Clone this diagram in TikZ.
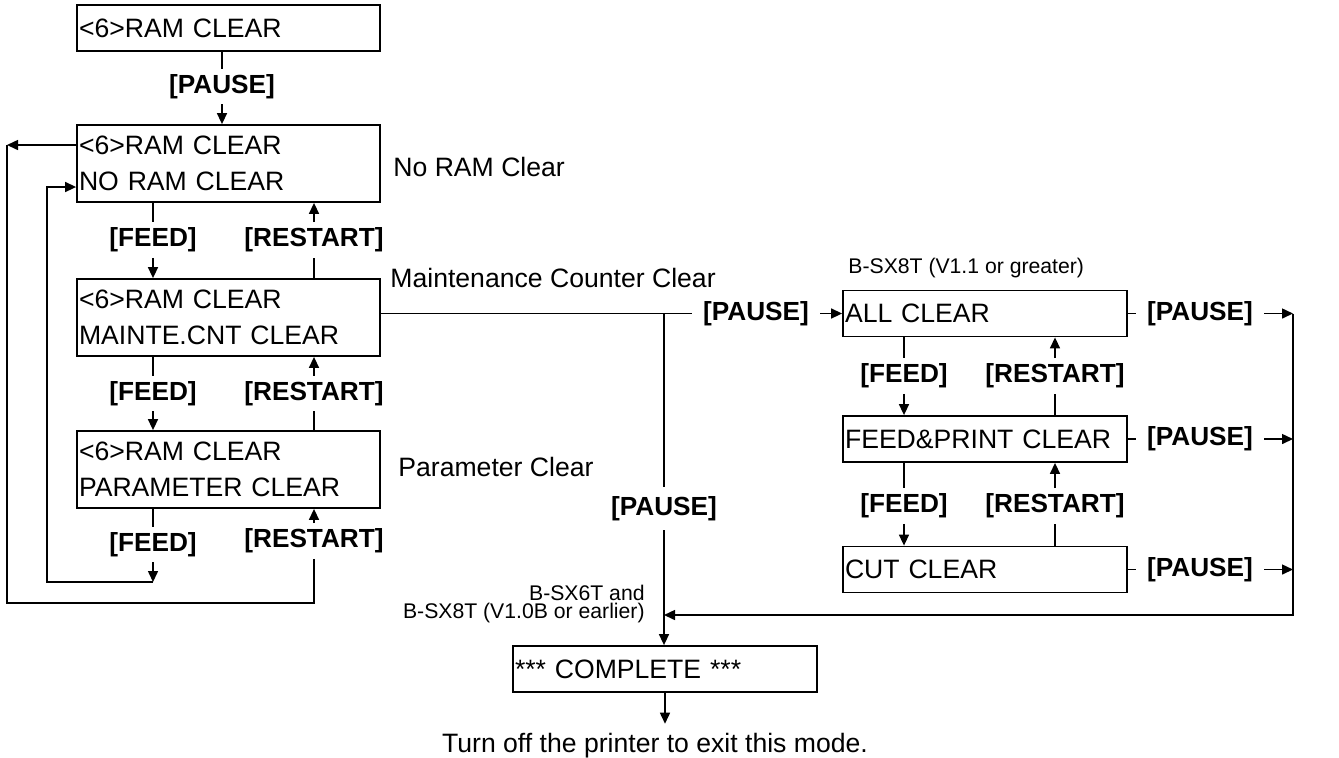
\documentclass[tikz,border=0pt]{standalone}
\usepackage{fontspec}
\setmainfont{Liberation Sans}
\usetikzlibrary{arrows.meta, positioning, calc}
\tikzset{
  scr/.style   = {draw, line width=0.9pt, align=left, inner xsep=1pt, inner ysep=0pt,
                  text width=149.5pt, font=\fontsize{13.3}{18}\selectfont},
  one/.style   = {scr, minimum height=23pt},
  two/.style   = {scr, minimum height=38.5pt},
  key/.style   = {font=\fontsize{13.1}{15}\selectfont\bfseries, inner xsep=5.5pt,
                  inner ysep=0pt, minimum height=17.5pt},
  wire/.style  = {line width=0.75pt},
  flow/.style  = {wire, -{Triangle[length=5.5pt, width=5pt]}},
  note/.style  = {font=\fontsize{13.3}{16}\selectfont, anchor=west, inner sep=0pt},
  small/.style = {font=\fontsize{10.6}{9.3}\selectfont, inner sep=0pt},
}

\begin{document}
\begin{tikzpicture}[x=0.5pt, y=-0.5pt]
    \useasboundingbox (0,0) rectangle (1339,757);

    % RAM CLEAR menu
    \node[one] (ramclr) at (228.5,28)    {<6>RAM CLEAR};
    \node[two] (noclr)  at (228.5,163.5) {<6>RAM CLEAR\\NO RAM CLEAR};
    \node[two] (mntclr) at (228.5,317.5) {<6>RAM CLEAR\\MAINTE.CNT CLEAR};
    \node[two] (parclr) at (228.5,469.5) {<6>RAM CLEAR\\PARAMETER CLEAR};

    \node[key] (p0) at (222,86.5)  {[PAUSE]};
    \node[key] (f1) at (153,240)   {[FEED]};
    \node[key] (r1) at (314,240)   {[RESTART]};
    \node[key] (f2) at (153,393.5) {[FEED]};
    \node[key] (r2) at (314,393.5) {[RESTART]};
    \node[key] (f3) at (153,544.5) {[FEED]};
    \node[key] (r3) at (314,541)   {[RESTART]};

    \draw[wire] (ramclr.south -| p0) -- (p0.north);
    \draw[flow] (p0.south) -- (noclr.north -| p0);
    \draw[wire] (noclr.south -| f1) -- (f1.north);
    \draw[flow] (f1.south) -- (mntclr.north -| f1);
    \draw[wire] (mntclr.north -| r1) -- (r1.south);
    \draw[flow] (r1.north) -- (noclr.south -| r1);
    \draw[wire] (mntclr.south -| f2) -- (f2.north);
    \draw[flow] (f2.south) -- (parclr.north -| f2);
    \draw[wire] (parclr.north -| r2) -- (r2.south);
    \draw[flow] (r2.north) -- (mntclr.south -| r2);
    \draw[wire] (parclr.south -| f3) -- (f3.north);
    \draw[flow] (r3.north) -- (parclr.south -| r3);

    % wrap-around loops
    \coordinate (lpin)  at (47,582);
    \coordinate (lpout) at (7,603);
    \coordinate (noin)  at ([yshift=-11.75pt]noclr.west);
    \coordinate (noout) at ([yshift=9.25pt]noclr.west);
    \draw[flow] (f3.south) -- (f3.south |- lpin);
    \draw[flow] (f3.south |- lpin) -- (lpin) |- (noin);
    \draw[wire] (r3.south) |- (lpout) -- (lpout |- noout);
    \draw[flow] (noout) -- (noout -| lpout);

    \node[note] (nolbl)  at (393,167) {No RAM Clear};
    \node[note] (mntlbl) at (390,278) {Maintenance Counter Clear};
    \node[note] (parlbl) at (398,467) {Parameter Clear};

    % B-SX8T sub menu
    \node[one, text width=140pt] (allclr) at (985,313.5) {ALL CLEAR};
    \node[one, text width=140pt] (fpclr)  at (985,439)   {FEED\&PRINT CLEAR};
    \node[one, text width=140pt] (cutclr) at (985,569.5) {CUT CLEAR};
    \node[small, anchor=west] (sx8) at (848,268) {B-SX8T (V1.1 or greater)};

    \node[key] (fa) at (904,376)  {[FEED]};
    \node[key] (ra) at (1055,376) {[RESTART]};
    \node[key] (fb) at (904,506)  {[FEED]};
    \node[key] (rb) at (1055,506) {[RESTART]};

    \draw[wire] (allclr.south -| fa) -- (fa.north);
    \draw[flow] (fa.south) -- (fpclr.north -| fa);
    \draw[wire] (fpclr.north -| ra) -- (ra.south);
    \draw[flow] (ra.north) -- (allclr.south -| ra);
    \draw[wire] (fpclr.south -| fb) -- (fb.north);
    \draw[flow] (fb.south) -- (cutclr.north -| fb);
    \draw[wire] (cutclr.north -| rb) -- (rb.south);
    \draw[flow] (rb.north) -- (fpclr.south -| rb);

    \node[key] (pm) at (756,313.5) {[PAUSE]};
    \node[key, minimum height=21.5pt] (pv) at (664,508.5) {[PAUSE]};
    \node[key] (pa) at (1200,313.5) {[PAUSE]};
    \node[key] (pb) at (1200,439)   {[PAUSE]};
    \node[key] (pc) at (1200,569.5) {[PAUSE]};

    \coordinate (rtop) at (1293,313.5);
    \coordinate (rbot) at (1293,615);

    \draw[wire] (mntclr.east |- pm) -- (pm.west);
    \draw[flow] (pm.east) -- (allclr.west);
    \draw[wire] (pm.west -| pv) -- (pv.north);
    \draw[wire] (allclr.east) -- (pa.west);
    \draw[flow] (pa.east) -- (pa.east -| rtop);
    \draw[wire] (fpclr.east) -- (pb.west);
    \draw[flow] (pb.east) -- (pb.east -| rtop);
    \draw[wire] (cutclr.east) -- (pc.west);
    \draw[flow] (pc.east) -- (pc.east -| rtop);
    \draw[flow] (rtop) -- (rbot) -- (rbot -| pv);

    % end of the mode
    \node[one, text width=150pt] (done) at (665,669) {*** COMPLETE ***};
    \node[small, anchor=east, align=right] (sx6) at (645,604)
      {B-SX6T and\\B-SX8T (V1.0B or earlier)};
    \node[note, anchor=base, inner ysep=4.3pt] (quit) at (655,752)
      {Turn off the printer to exit this mode.};

    \draw[flow] (pv.south) -- (done.north -| pv);
    \draw[flow] (done.south) -- (done.south |- quit.north);
  \end{tikzpicture}
\end{document}
